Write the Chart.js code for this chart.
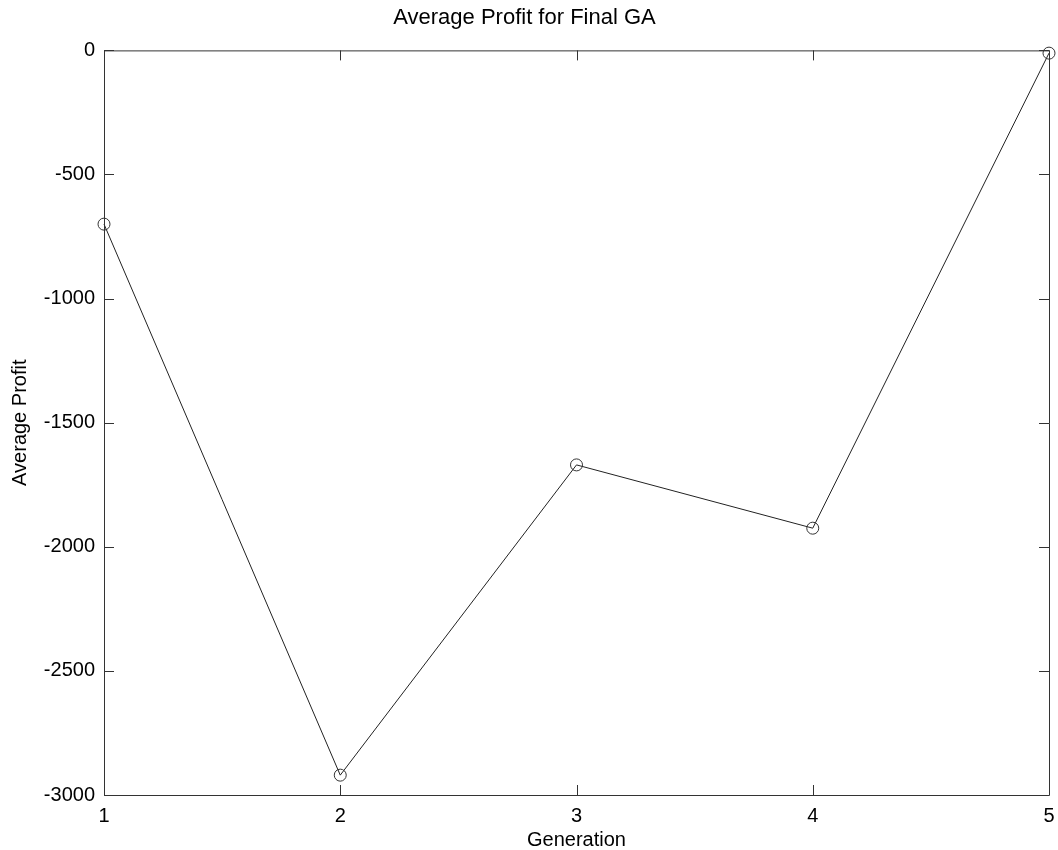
<!DOCTYPE html>
<html>
<head>
<meta charset="utf-8">
<script src="https://cdn.jsdelivr.net/npm/chart.js@4"></script>
<style>
    html, body { margin: 0; padding: 0; background: #fff; }
    #wrap { width: 1058px; height: 850px; }
</style>
</head>
<body>
<div id="wrap"><canvas id="profitChart" width="1058" height="850"></canvas></div>
<script>
const generations = [1, 2, 3, 4, 5];
const avgProfit = [-700, -2920, -1670, -1925, -11];
const xTicks = [1, 2, 3, 4, 5];
const yTicks = [0, -500, -1000, -1500, -2000, -2500, -3000];

const AXIS_COLOR = '#333';
const FONT = 'Liberation Sans, Arial, sans-serif';

// MATLAB style box with inward ticks on all four sides
const boxTicks = {
    id: 'boxTicks',
    afterDraw(chart) {
        const { ctx, chartArea: a, scales } = chart;
        const len = 10;
        ctx.save();
        ctx.strokeStyle = AXIS_COLOR;
        ctx.lineWidth = 1;
        ctx.beginPath();
        ctx.rect(a.left + 0.5, a.top + 0.5, a.right - a.left, a.bottom - a.top);
        xTicks.forEach(v => {
            const x = Math.round(scales.x.getPixelForValue(v)) + 0.5;
            ctx.moveTo(x, a.bottom); ctx.lineTo(x, a.bottom - len);
            ctx.moveTo(x, a.top); ctx.lineTo(x, a.top + len);
        });
        yTicks.forEach(v => {
            const y = Math.round(scales.y.getPixelForValue(v)) + 0.5;
            ctx.moveTo(a.left, y); ctx.lineTo(a.left + len, y);
            ctx.moveTo(a.right, y); ctx.lineTo(a.right - len, y);
        });
        ctx.stroke();
        ctx.restore();
    }
};

const ctx = document.getElementById('profitChart').getContext('2d');
new Chart(ctx, {
    type: 'line',
    data: {
        datasets: [{
            data: generations.map((g, i) => ({ x: g, y: avgProfit[i] })),
            borderColor: '#222',
            borderWidth: 1,
            pointStyle: 'circle',
            pointRadius: 6,
            pointBorderWidth: 1,
            pointBorderColor: '#333',
            pointBackgroundColor: 'rgba(0,0,0,0)',
            tension: 0,
            clip: false
        }]
    },
    options: {
        responsive: false,
        animation: false,
        layout: { padding: { left: 0, right: 9, top: 0, bottom: 0 } },
        plugins: {
            legend: { display: false },
            tooltip: { enabled: false },
            title: {
                display: true,
                text: 'Average Profit for Final GA',
                color: '#000',
                font: { family: FONT, size: 22, weight: 'normal', lineHeight: 1.2 },
                padding: { top: 5, bottom: 19 }
            }
        },
        scales: {
            x: {
                type: 'linear',
                min: 1,
                max: 5,
                afterBuildTicks: s => { s.ticks = xTicks.map(v => ({ value: v })); },
                afterFit: s => { s.height = 55; },
                grid: { display: false },
                border: { display: false },
                ticks: {
                    color: '#000',
                    padding: 1,
                    font: { family: FONT, size: 20 },
                    callback: v => String(v)
                },
                title: {
                    display: true,
                    text: 'Generation',
                    color: '#000',
                    font: { family: FONT, size: 20, lineHeight: 1 },
                    padding: { top: 0, bottom: 0 }
                }
            },
            y: {
                type: 'linear',
                min: -3000,
                max: 0,
                afterBuildTicks: s => { s.ticks = yTicks.map(v => ({ value: v })); },
                afterFit: s => { s.width = 104; },
                grid: { display: false },
                border: { display: false },
                ticks: {
                    color: '#000',
                    padding: 1,
                    font: { family: FONT, size: 20 },
                    callback: v => String(v)
                },
                title: {
                    display: true,
                    text: 'Average Profit',
                    color: '#000',
                    font: { family: FONT, size: 20 },
                    padding: { top: 8, bottom: 0 }
                }
            }
        }
    },
    plugins: [boxTicks]
});
</script>
</body>
</html>
